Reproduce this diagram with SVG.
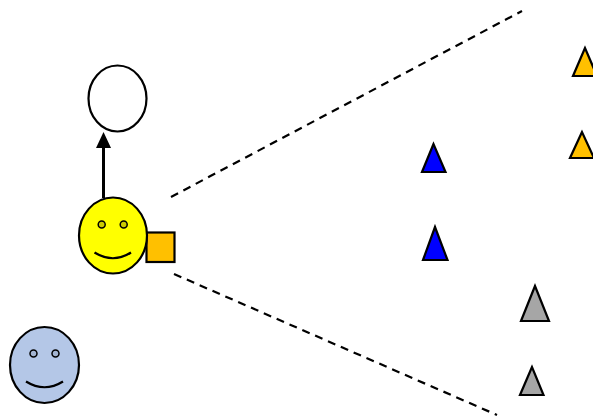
<svg xmlns="http://www.w3.org/2000/svg" width="593" height="418" viewBox="0 0 593 418">
<style>
.o{stroke:#000;stroke-width:2.200;fill:none}
.f{stroke:#000;stroke-width:2.200;stroke-linejoin:miter}
.e{stroke:#000;stroke-width:1.500}
.a{stroke:#000;stroke-width:3;fill:none}
.d{stroke:#000;stroke-width:2.200;fill:none;stroke-dasharray:8 6}
</style>
<rect width="593" height="418" fill="#fff"/>
<g id="connectors">
<line class="a" x1="103.500" y1="198" x2="103.500" y2="146"/>
<polygon points="103.500,132 96,148 111,148" fill="#000"/>
<line class="d" x1="171" y1="197" x2="522" y2="11"/>
<line class="d" x1="174" y1="274" x2="497" y2="415"/>
</g>
<g id="circle"><ellipse class="o" cx="117.500" cy="98.500" rx="29" ry="33"/></g>
<g id="square"><rect class="f" x="146.500" y="232.500" width="28" height="29.500" fill="#ffc000"/></g>
<g id="smiley-yellow">
<ellipse class="f" cx="113" cy="235.500" rx="34" ry="38" fill="#ff0"/>
<circle class="e" cx="101.700" cy="224.500" r="3.500" fill="#cccc00"/>
<circle class="e" cx="123.700" cy="224.500" r="3.500" fill="#cccc00"/>
<path class="o" d="M94.500 252.500Q113 264 131 252.500"/>
</g>
<g id="smiley-blue">
<ellipse class="f" cx="44.500" cy="365" rx="34.500" ry="38" fill="#b4c7e7"/>
<circle class="e" cx="33.500" cy="353.500" r="3.500" fill="#a3b4d1"/>
<circle class="e" cx="55.500" cy="353.500" r="3.500" fill="#a3b4d1"/>
<path class="o" d="M26 381.500Q44.500 393 63 381.500"/>
</g>
<g id="tri-orange-1"><polygon class="f" points="585,48 573,76 597,76" fill="#ffc000"/></g>
<g id="tri-orange-2"><polygon class="f" points="582,132 570,158 594,158" fill="#ffc000"/></g>
<g id="tri-blue-1"><polygon class="f" points="433.500,144 422,172 445.500,172" fill="#00f"/></g>
<g id="tri-blue-2"><polygon class="f" points="435,227 423,260 447.500,260" fill="#00f"/></g>
<g id="tri-gray-1"><polygon class="f" points="535,286 521,321 549,321" fill="#a6a6a6"/></g>
<g id="tri-gray-2"><polygon class="f" points="532,367 520,395 543.500,395" fill="#a6a6a6"/></g>
</svg>
